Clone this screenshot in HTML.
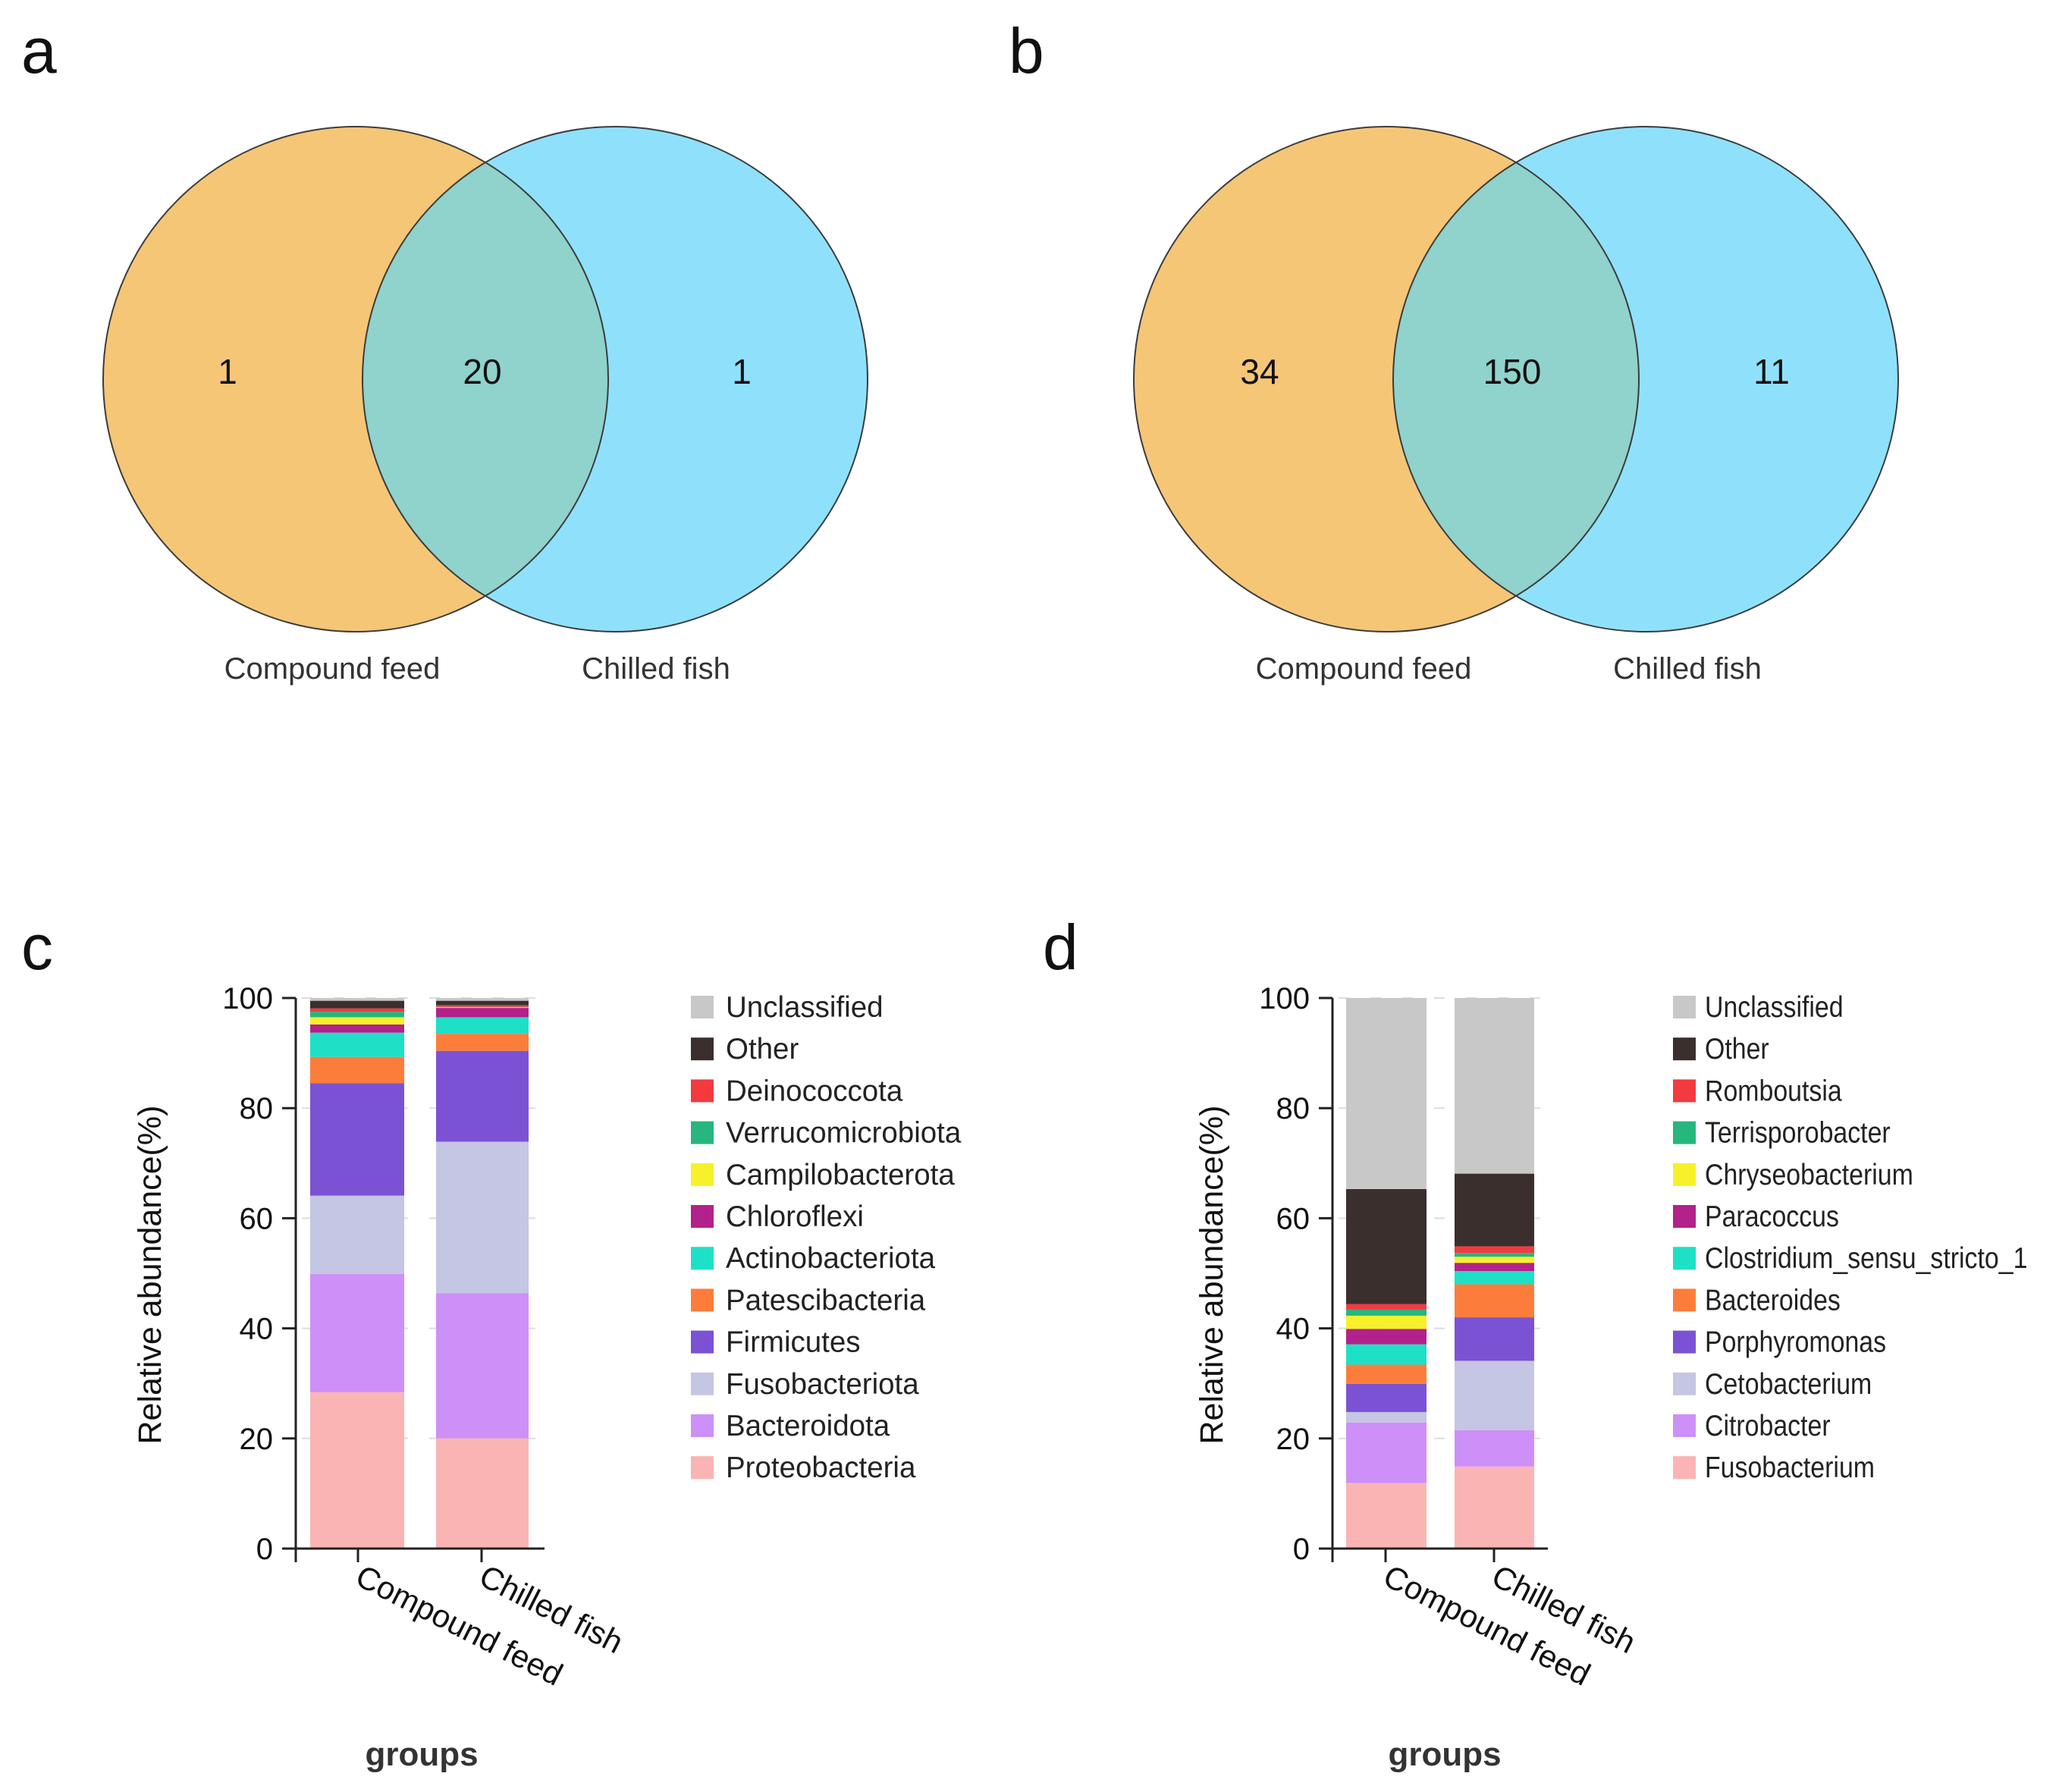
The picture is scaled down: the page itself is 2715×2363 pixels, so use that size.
<!DOCTYPE html>
<html><head><meta charset="utf-8"><style>
html,body{margin:0;padding:0;background:#fff;}
svg{display:block;font-family:"Liberation Sans",Arial,sans-serif;}
</style></head><body>
<svg id="fig" width="2715" height="2363" viewBox="0 0 2715 2363" xmlns="http://www.w3.org/2000/svg">
<defs>
<clipPath id="clipA"><circle cx="811" cy="500" r="333"/></clipPath>
<clipPath id="clipB"><circle cx="2170" cy="500" r="333"/></clipPath>
</defs>
<g font-size="84" fill="#111">
<text x="28" y="96">a</text>
<text x="1330" y="96">b</text>
<text x="28" y="1278">c</text>
<text x="1375" y="1278">d</text>
</g>
<g id="vennA"></g>
<g id="vennB"></g>
<g id="chartC"></g>
<g id="chartD"></g>
</svg>
<script>
const vennACounts=[1,20,1];
const vennBCounts=[34,150,11];
const vennSets=["Compound feed","Chilled fish"];
const groups=["Compound feed","Chilled fish"];
const yTicks=[0,20,40,60,80,100];
const cLabels=["Proteobacteria","Bacteroidota","Fusobacteriota","Firmicutes","Patescibacteria","Actinobacteriota","Chloroflexi","Campilobacterota","Verrucomicrobiota","Deinococcota","Other","Unclassified"];
const cCompound=[28.4,21.5,14.2,20.4,4.8,4.4,1.5,1.3,1.0,0.6,1.4,0.5];
const cChilled=[20.0,26.4,27.5,16.5,3.1,3.0,1.7,0.1,0.1,0.3,0.8,0.5];
const dLabels=["Fusobacterium","Citrobacter","Cetobacterium","Porphyromonas","Bacteroides","Clostridium_sensu_stricto_1","Paracoccus","Chryseobacterium","Terrisporobacter","Romboutsia","Other","Unclassified"];
const dCompound=[11.9,11.0,1.9,5.1,3.5,3.7,2.8,2.4,1.1,1.0,20.9,34.7];
const dChilled=[14.9,6.6,12.6,7.9,6.0,2.4,1.5,1.1,0.7,1.2,13.2,31.9];
const palette=["#fbb4b4","#cd90f8","#c5c5e4","#7b52d4","#fc7d3b","#1de0c6","#b3218b","#f8f02a","#26b67e","#f23a3f","#3b2f2e","#c8c8c8"];

const NS="http://www.w3.org/2000/svg";
function mk(parent,tag,attrs,text){const e=document.createElementNS(NS,tag);for(const k in attrs)e.setAttribute(k,attrs[k]);if(text!==undefined)e.textContent=text;parent.appendChild(e);return e;}

function venn(gid,cxL,counts,clip,nx,lx){
  const g=document.getElementById(gid);
  const cxR=cxL+342, cy=500, r=333;
  let e=mk(g,'circle',{cx:cxL,cy:cy,r:r,fill:'#f6c677'});
  
  
  e=mk(g,'circle',{cx:cxR,cy:cy,r:r,fill:'#8fe1fb'});
  
  
  e=mk(g,'circle',{cx:cxL,cy:cy,r:r,fill:'#90d2cc','clip-path':'url(#'+clip+')'});
  
  
  mk(g,'circle',{cx:cxL,cy:cy,r:r,fill:'none',stroke:'#3c3c3c','stroke-width':2});
  mk(g,'circle',{cx:cxR,cy:cy,r:r,fill:'none',stroke:'#3c3c3c','stroke-width':2});
  counts.forEach((c,i)=>{
    const t=mk(g,'text',{x:nx[i],y:506,'font-size':46,'text-anchor':'middle',fill:'#111'},String(c));
    
    
  });
  vennSets.forEach((s,i)=>{
    const t=mk(g,'text',{x:lx[i],y:895,'font-size':40,'text-anchor':'middle',fill:'#333'},s);
    
    
  });
}
venn('vennA',469,vennACounts,'clipA',[300,636,978],[438,865]);
venn('vennB',1828,vennBCounts,'clipB',[1661,1994,2336],[1798,2225]);

function chart(gid,o,labels,s1,s2,legScale){
  const g=document.getElementById(gid);
  const y0=2042,y1=1316;
  const ys=v=>y0-(v/100)*(y0-y1);
  yTicks.forEach(t=>{
    if(t===0)return;
    const gl=mk(g,'line',{x1:o.ax+8,x2:o.axEnd,y1:ys(t),y2:ys(t),stroke:'#ddd','stroke-width':2,'stroke-dasharray':'14 28'});
    
    
  });
  [s1,s2].forEach((s,bi)=>{
    let acc=0;
    s.forEach((v,i)=>{
      const r=mk(g,'rect',{x:o.bars[bi][0],width:o.bars[bi][1]-o.bars[bi][0],y:ys(acc+v),height:ys(acc)-ys(acc+v),fill:palette[i]});
      
      
      acc+=v;
    });
  });
  let a=mk(g,'line',{x1:o.ax,x2:o.ax,y1:y1,y2:y0+18,stroke:'#222','stroke-width':3});
  
  
  a=mk(g,'line',{x1:o.ax-18,x2:o.axEnd,y1:y0,y2:y0,stroke:'#222','stroke-width':3});
  
  
  yTicks.forEach(t=>{
    mk(g,'line',{x1:o.ax-18,x2:o.ax,y1:ys(t),y2:ys(t),stroke:'#222','stroke-width':3});
    const tl=mk(g,'text',{x:o.ax-30,y:ys(t)+14,'font-size':40,'text-anchor':'end',fill:'#111'},String(t));
    
    
  });
  groups.forEach((gr,i)=>{
    const tx=o.ticks[i];
    mk(g,'line',{x1:tx,x2:tx,y1:y0,y2:y0+18,stroke:'#222','stroke-width':3});
    const t=mk(g,'text',{x:tx-6,y:y0+46,'font-size':42,fill:'#111',transform:'rotate(27 '+(tx-6)+' '+(y0+46)+')'},gr);
    
    
  });
  let t=mk(g,'text',{x:o.ytx,y:1681,'font-size':43,'text-anchor':'middle',fill:'#111',transform:'rotate(-90 '+o.ytx+' 1681)'},'Relative abundance(%)');
  
  
  t=mk(g,'text',{x:o.gx,y:2328,'font-size':44,'font-weight':'bold','text-anchor':'middle',fill:'#333'},'groups');
  
  
  const lg=mk(g,'g',{});
  
  
  const n=labels.length;
  for(let k=0;k<n;k++){
    const i=n-1-k;
    const cy=1328+k*55.2;
    const sq=mk(lg,'rect',{x:o.lx,y:cy-15,width:30,height:30,fill:palette[i]});
    
    
    const lt=mk(lg,'text',{x:0,y:0,'font-size':38.5,fill:'#222',transform:'translate('+(o.lx+o.tg)+' '+(cy+13)+') scale('+legScale+' 1)'},labels[i]);
    
    
  }
}
chart('chartC',{ax:390,axEnd:718,bars:[[409,533],[575,697]],ticks:[472,635],ytx:212,gx:556,lx:911,tg:46},cLabels,cCompound,cChilled,1);
chart('chartD',{ax:1757,axEnd:2041,bars:[[1775,1881],[1918,2023]],ticks:[1827,1970],ytx:1612,gx:1905,lx:2206,tg:42},dLabels,dCompound,dChilled,0.88);
</script>
</body></html>
